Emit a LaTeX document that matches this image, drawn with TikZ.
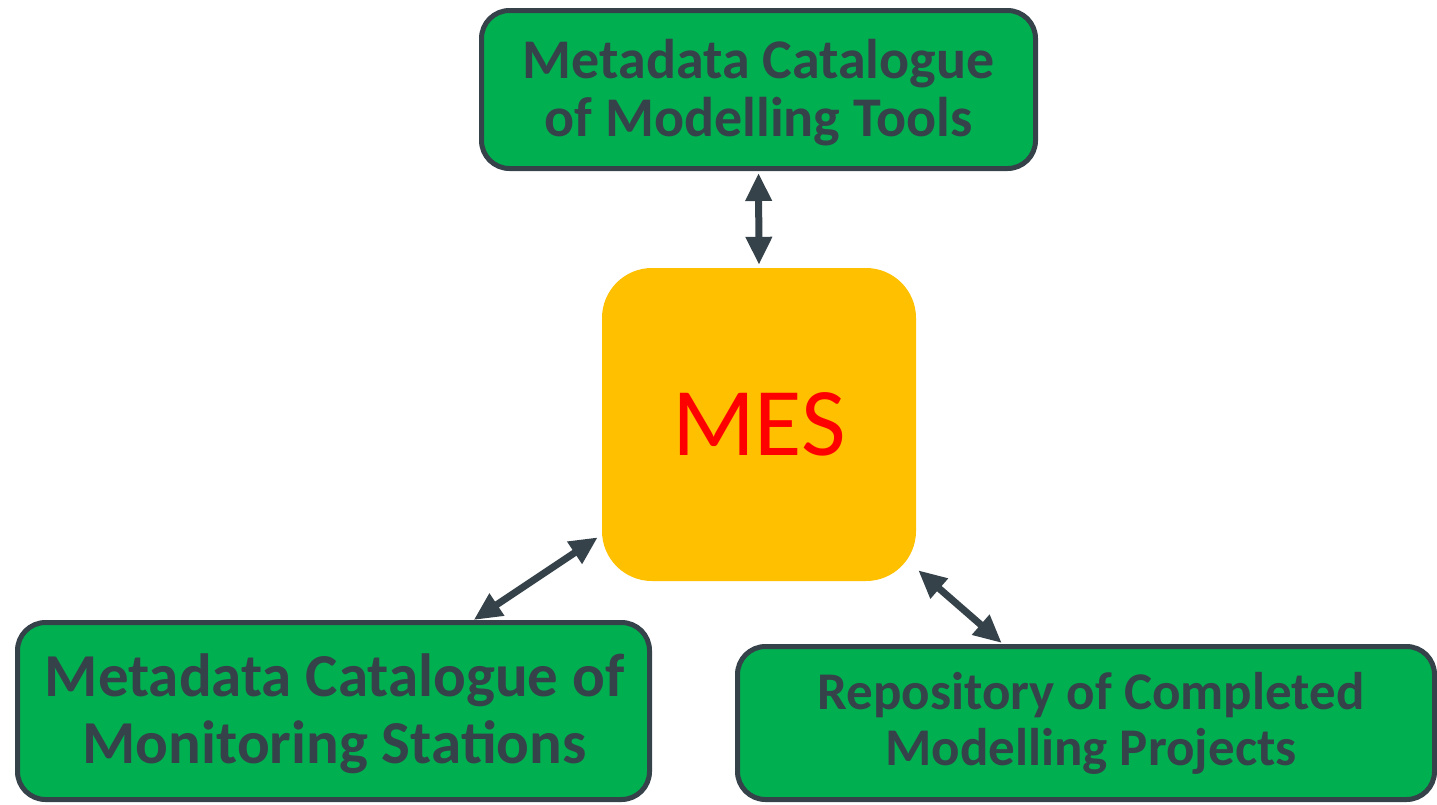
\documentclass[tikz,border=0pt]{standalone}
\usepackage{fontspec}
\setmainfont{Carlito}
\usetikzlibrary{arrows.meta,calc}
\definecolor{boxgreen}{HTML}{00B050}
\definecolor{slate}{HTML}{36424A}
\definecolor{mesyellow}{HTML}{FFC000}
\definecolor{mesred}{HTML}{FF0000}
\tikzset{
  greenbox/.style={draw=slate, line width=5pt, fill=boxgreen, rounded corners=28pt, inner sep=0pt},
  boxtext/.style={text=slate, align=center, inner sep=0pt},
  mesbox/.style={fill=mesyellow, rounded corners=50pt, minimum width=314pt, minimum height=313pt,
    text=mesred, font=\fontsize{97}{100}\selectfont, inner sep=0pt},
  arr/.style={draw=slate, line width=7pt, {Triangle[width=25pt,length=28pt]}-{Triangle[width=25pt,length=28pt]}}
}
\begin{document}
\begin{tikzpicture}[x=1pt,y=-1pt]
\useasboundingbox (0,0) rectangle (1437,804);
\node[greenbox, minimum width=554pt, minimum height=158pt] (top) at (758.5,89.5) {};
\node[boxtext, font=\bfseries\fontsize{56}{58}\selectfont] (toptext) at ([yshift=-3pt]top.center) {Metadata Catalogue\\of Modelling Tools};
\node[mesbox] (mes) at (759,424.5) {MES};
\node[greenbox, minimum width=632pt, minimum height=177pt] (bl) at (333.5,711) {};
\node[boxtext, font=\bfseries\fontsize{61}{67}\selectfont] (bltext) at ([xshift=1pt,yshift=-3pt]bl.center) {Metadata Catalogue of\\Monitoring Stations};
\node[greenbox, minimum width=697pt, minimum height=153pt] (br) at (1086,723) {};
\node[boxtext, font=\bfseries\fontsize{53}{56}\selectfont] (brtext) at ([xshift=5pt]br.center) {Repository of Completed\\Modelling Projects};
\draw[arr, shorten <=2pt, shorten >=3pt] (top.south) -- (mes.north);
\draw[arr] ($(mes.north west)!0.86!(mes.south west)+(-4,0)$) -- ($(bl.north west)!0.72!(bl.north east)$);
\draw[arr] ($(mes.north east)!0.965!(mes.south east)+(2,0)$) -- ($(br.north west)!0.38!(br.north east)+(0,-1)$);
\end{tikzpicture}
\end{document}
